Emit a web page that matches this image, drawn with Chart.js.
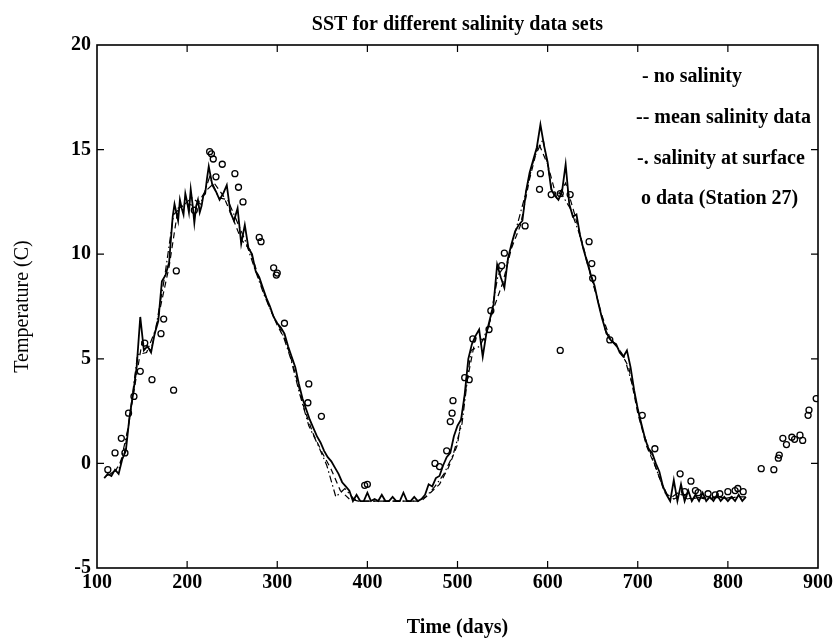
<!DOCTYPE html>
<html>
<head>
<meta charset="utf-8">
<script src="https://cdn.jsdelivr.net/npm/chart.js@4.4.1/dist/chart.umd.min.js"></script>
<style>
  html, body { margin: 0; padding: 0; background: #fff; }
  #wrap { width: 834px; height: 640px; }
</style>
</head>
<body>
<div id="wrap"><canvas id="sstChart" width="834" height="640"></canvas></div>
<script>
// SST for different salinity data sets

const xTicks = [100, 200, 300, 400, 500, 600, 700, 800, 900];
const yTicks = [-5, 0, 5, 10, 15, 20];

const legendLabels = ["- no salinity", "-- mean salinity data", "-. salinity at surface", "o data (Station 27)"];

// no salinity (solid)
const noSalDays = [
  108,112,116,120,124,128,132,136,140,144,
  148,152,156,160,164,168,172,176,180,
  184,186,188,190,192,194,196,198,200,202,204,206,208,210,212,214,216,218,220,222,224,
  228,232,236,240,244,248,252,256,260,264,
  268,272,276,280,284,288,292,296,300,304,
  308,312,316,320,324,328,332,336,340,344,
  348,352,356,360,364,368,372,376,380,384,
  388,392,396,400,404,408,412,416,420,424,
  428,432,436,440,444,448,452,456,460,464,
  468,472,476,480,484,488,492,496,500,504,
  508,512,516,520,524,528,532,536,540,544,
  548,552,556,560,564,568,572,576,580,584,
  588,592,596,600,604,608,612,616,620,624,
  628,632,636,640,644,648,652,656,660,664,
  668,672,676,680,684,688,692,696,700,704,
  708,712,716,720,724,728,732,736,740,744,
  748,752,756,760,764,768,772,776,780,784,
  788,792,796,800,804,808,812,816,820
];
const noSalTemp = [
  -0.7,-0.5,-0.6,-0.3,-0.5,0.2,0.6,2.2,3.3,4.6,
  7.0,5.4,5.6,5.3,6.2,6.8,8.7,9.0,9.6,
  11.8,12.4,12.0,11.6,12.6,12.2,11.9,12.9,12.5,12.0,13.1,12.4,11.5,12.3,12.6,12.0,12.3,12.8,12.9,13.6,14.2,
  13.3,13.0,12.6,12.9,13.3,12.0,11.6,12.2,10.5,11.4,
  10.3,10.0,9.2,8.9,8.4,7.9,7.5,7.0,6.7,6.5,
  6.2,5.6,5.1,4.6,3.8,3.1,2.6,2.1,1.7,1.3,
  1.0,0.6,0.3,0.1,-0.2,-0.5,-0.9,-1.1,-1.3,-1.8,
  -1.5,-1.8,-1.8,-1.4,-1.8,-1.7,-1.8,-1.5,-1.8,-1.8,
  -1.6,-1.8,-1.8,-1.4,-1.8,-1.8,-1.6,-1.8,-1.7,-1.5,
  -1.0,-1.1,-0.7,-0.6,-0.1,0.3,0.5,1.3,1.8,2.1,
  3.3,5.0,5.7,6.1,6.4,5.1,6.2,6.9,7.6,9.5,
  8.9,8.4,9.8,10.5,11.1,11.4,11.6,13.0,13.9,14.5,
  15.1,16.2,15.2,14.4,13.1,12.8,12.6,13.0,14.3,12.4,
  11.8,11.9,10.9,10.2,9.6,9.0,8.5,7.7,7.0,6.4,
  6.0,5.8,5.7,5.3,5.1,5.4,4.6,3.5,2.6,1.9,
  1.2,0.7,0.5,0.0,-0.4,-1.1,-1.5,-1.8,-0.8,-1.8,
  -1.0,-1.8,-1.3,-1.8,-1.5,-1.8,-1.4,-1.8,-1.6,-1.8,
  -1.5,-1.8,-1.6,-1.8,-1.6,-1.8,-1.5,-1.8,-1.6
];

// mean salinity data (dashed)
const meanSalDays = [
  110,120,130,140,150,160,170,180,190,200,
  210,220,230,240,250,260,270,280,290,300,
  310,320,330,340,350,360,370,380,390,400,
  410,420,430,440,450,460,470,480,490,500,
  510,520,530,540,550,560,570,580,590,600,
  610,620,630,640,650,660,670,680,690,700,
  710,720,730,740,750,760,770,780,790,800,
  810,820
];
const meanSalTemp = [
  -0.6,-0.4,0.4,3.2,5.8,5.4,7.4,9.4,12.2,12.4,
  12.3,13.0,13.4,12.8,11.8,10.7,10.2,8.8,7.6,6.6,
  5.8,4.3,2.6,1.4,0.5,-0.3,-1.3,-1.7,-1.8,-1.8,
  -1.8,-1.8,-1.8,-1.8,-1.8,-1.8,-1.4,-1.0,-0.2,0.9,
  3.8,6.0,5.9,7.4,8.6,10.3,11.4,13.6,15.3,14.3,
  12.7,13.4,11.9,10.3,8.7,7.1,5.9,5.4,4.6,2.4,
  0.8,-0.2,-1.4,-1.7,-1.5,-1.7,-1.6,-1.7,-1.6,-1.7,
  -1.6,-1.6
];

// salinity at surface (dash-dot)
const surfSalDays = [
  115,125,135,145,155,165,175,185,195,205,
  215,225,235,245,255,265,275,285,295,305,
  315,325,335,345,355,365,375,385,395,405,
  415,425,435,445,455,465,475,485,495,505,
  515,525,535,545,555,565,575,585,595,605,
  615,625,635,645,655,665,675,685,695,705,
  715,725,735,745,755,765,775,785,795,805,
  815
];
const surfSalTemp = [
  -0.5,-0.2,1.8,5.2,5.3,6.4,8.9,11.9,12.3,12.7,
  12.4,13.7,12.7,12.6,11.6,10.6,9.3,8.1,7.1,6.3,
  5.0,3.3,1.8,0.9,-0.1,-1.6,-1.2,-1.7,-1.8,-1.8,
  -1.8,-1.8,-1.8,-1.8,-1.8,-1.6,-1.1,-0.5,0.4,1.9,
  5.4,5.6,6.6,9.0,9.6,11.2,12.8,14.6,15.5,13.0,
  12.9,12.2,11.0,9.4,7.9,6.2,5.7,5.1,3.6,1.6,
  0.4,-0.8,-1.7,-1.4,-1.7,-1.6,-1.7,-1.6,-1.7,-1.6,
  -1.7
];

// observations, Station 27 (circles)
const stationDays = [
  112,120,127,131,135,141,148,153,161,171,
  174,185,188,208,225,227,229,232,239,253,
  257,262,280,282,296,299,300,308,334,335,
  349,397,400,475,480,488,492,494,495,508,
  513,517,535,537,549,552,575,591,592,604,
  614,614,625,646,649,650,669,705,719,747,
  752,759,764,767,778,786,791,800,808,811,
  817,837,851,856,857,861,865,871,874,880,
  883,889,890,898
];
const stationTemp = [
  -0.3,0.5,1.2,0.5,2.4,3.2,4.4,5.75,4.0,6.2,
  6.9,3.5,9.2,12.1,14.9,14.8,14.55,13.7,14.3,13.85,
  13.2,12.5,10.8,10.6,9.35,9.0,9.1,6.7,2.9,3.8,
  2.25,-1.05,-1.0,0.0,-0.15,0.6,2.0,2.4,3.0,4.1,
  4.0,5.95,6.4,7.3,9.45,10.05,11.35,13.1,13.85,12.85,
  12.9,5.4,12.85,10.6,9.55,8.85,5.9,2.3,0.7,-0.5,
  -1.35,-0.85,-1.3,-1.4,-1.45,-1.5,-1.45,-1.35,-1.3,-1.2,
  -1.35,-0.25,-0.3,0.25,0.4,1.2,0.9,1.25,1.15,1.35,
  1.1,2.3,2.55,3.1
];

const toPoints = (days, temps) => days.map((d, i) => ({ x: d, y: temps[i] }));

const serif = "'Liberation Serif', 'DejaVu Serif', serif";

// black frame with inward ticks on all four sides
const frameTicks = {
  id: "frameTicks",
  afterDatasetsDraw(chart) {
    const { ctx, chartArea: a, scales: { x, y } } = chart;
    ctx.save();
    ctx.strokeStyle = "#000";
    ctx.lineWidth = 1.6;
    ctx.strokeRect(a.left, a.top, a.right - a.left, a.bottom - a.top);
    ctx.lineWidth = 1.2;
    ctx.beginPath();
    xTicks.slice(1, -1).forEach(v => {
      const px = x.getPixelForValue(v);
      ctx.moveTo(px, a.bottom); ctx.lineTo(px, a.bottom - 7);
      ctx.moveTo(px, a.top); ctx.lineTo(px, a.top + 7);
    });
    yTicks.slice(1, -1).forEach(v => {
      const py = y.getPixelForValue(v);
      ctx.moveTo(a.left, py); ctx.lineTo(a.left + 7, py);
      ctx.moveTo(a.right, py); ctx.lineTo(a.right - 7, py);
    });
    ctx.stroke();
    ctx.restore();
  }
};

// text legend in the upper right corner, like the original
const textLegend = {
  id: "textLegend",
  afterDraw(chart) {
    const { ctx, chartArea: a } = chart;
    const offs = [[176, 32], [182, 73], [181, 114], [177, 154]];
    ctx.save();
    ctx.fillStyle = "#000";
    ctx.font = "bold 20px " + serif;
    ctx.textBaseline = "middle";
    ctx.textAlign = "left";
    legendLabels.forEach((t, i) => {
      ctx.fillText(t, a.right - offs[i][0], a.top + offs[i][1]);
    });
    ctx.restore();
  }
};

const ctx = document.getElementById("sstChart").getContext("2d");
new Chart(ctx, {
  type: "scatter",
  data: {
    datasets: [
      {
        label: legendLabels[2],
        data: toPoints(surfSalDays, surfSalTemp),
        showLine: true,
        borderColor: "#000",
        borderWidth: 1.2,
        borderDash: [7, 3, 1.5, 3],
        pointRadius: 0,
        tension: 0
      },
      {
        label: legendLabels[1],
        data: toPoints(meanSalDays, meanSalTemp),
        showLine: true,
        borderColor: "#000",
        borderWidth: 1.2,
        borderDash: [6, 4],
        pointRadius: 0,
        tension: 0
      },
      {
        label: legendLabels[0],
        data: toPoints(noSalDays, noSalTemp),
        showLine: true,
        borderColor: "#000",
        borderWidth: 1.8,
        pointRadius: 0,
        tension: 0
      },
      {
        label: legendLabels[3],
        data: toPoints(stationDays, stationTemp),
        showLine: false,
        pointStyle: "circle",
        pointRadius: 3,
        pointBorderWidth: 1.3,
        pointBorderColor: "#000",
        pointBackgroundColor: "rgba(255,255,255,0)"
      }
    ]
  },
  options: {
    responsive: false,
    animation: false,
    layout: { padding: { left: 0, right: 16, top: 0, bottom: 0 } },
    plugins: {
      legend: { display: false },
      tooltip: { enabled: false },
      title: {
        display: true,
        fullSize: false,
        text: "SST for different salinity data sets",
        color: "#000",
        font: { family: serif, size: 20, weight: "bold", lineHeight: 1.2 },
        padding: { top: 13, bottom: 8 }
      }
    },
    scales: {
      x: {
        type: "linear",
        min: 100,
        max: 900,
        afterFit(scale) {
          scale.height = 72;
          scale.paddingLeft = 0;
          scale.paddingRight = 0;
        },
        afterBuildTicks(scale) { scale.ticks = xTicks.map(v => ({ value: v })); },
        grid: { display: false, drawTicks: false },
        border: { display: false },
        ticks: {
          color: "#000",
          padding: 3,
          maxRotation: 0,
          font: { family: serif, size: 20, weight: "bold" }
        },
        title: {
          display: true,
          text: "Time (days)",
          color: "#000",
          font: { family: serif, size: 20, weight: "bold", lineHeight: 1.2 },
          padding: { top: 0, bottom: 0 }
        }
      },
      y: {
        type: "linear",
        min: -5,
        max: 20,
        afterFit(scale) { scale.width = 97; },
        afterBuildTicks(scale) { scale.ticks = yTicks.map(v => ({ value: v })); },
        grid: { display: false, drawTicks: false },
        border: { display: false },
        ticks: {
          color: "#000",
          padding: 6,
          font: { family: serif, size: 20, weight: "bold" }
        },
        title: {
          display: true,
          text: "Temperature (C)",
          color: "#000",
          font: { family: serif, size: 20, lineHeight: 1.2 },
          padding: { top: 11, bottom: 0 }
        }
      }
    }
  },
  plugins: [frameTicks, textLegend]
});
</script>
</body>
</html>
